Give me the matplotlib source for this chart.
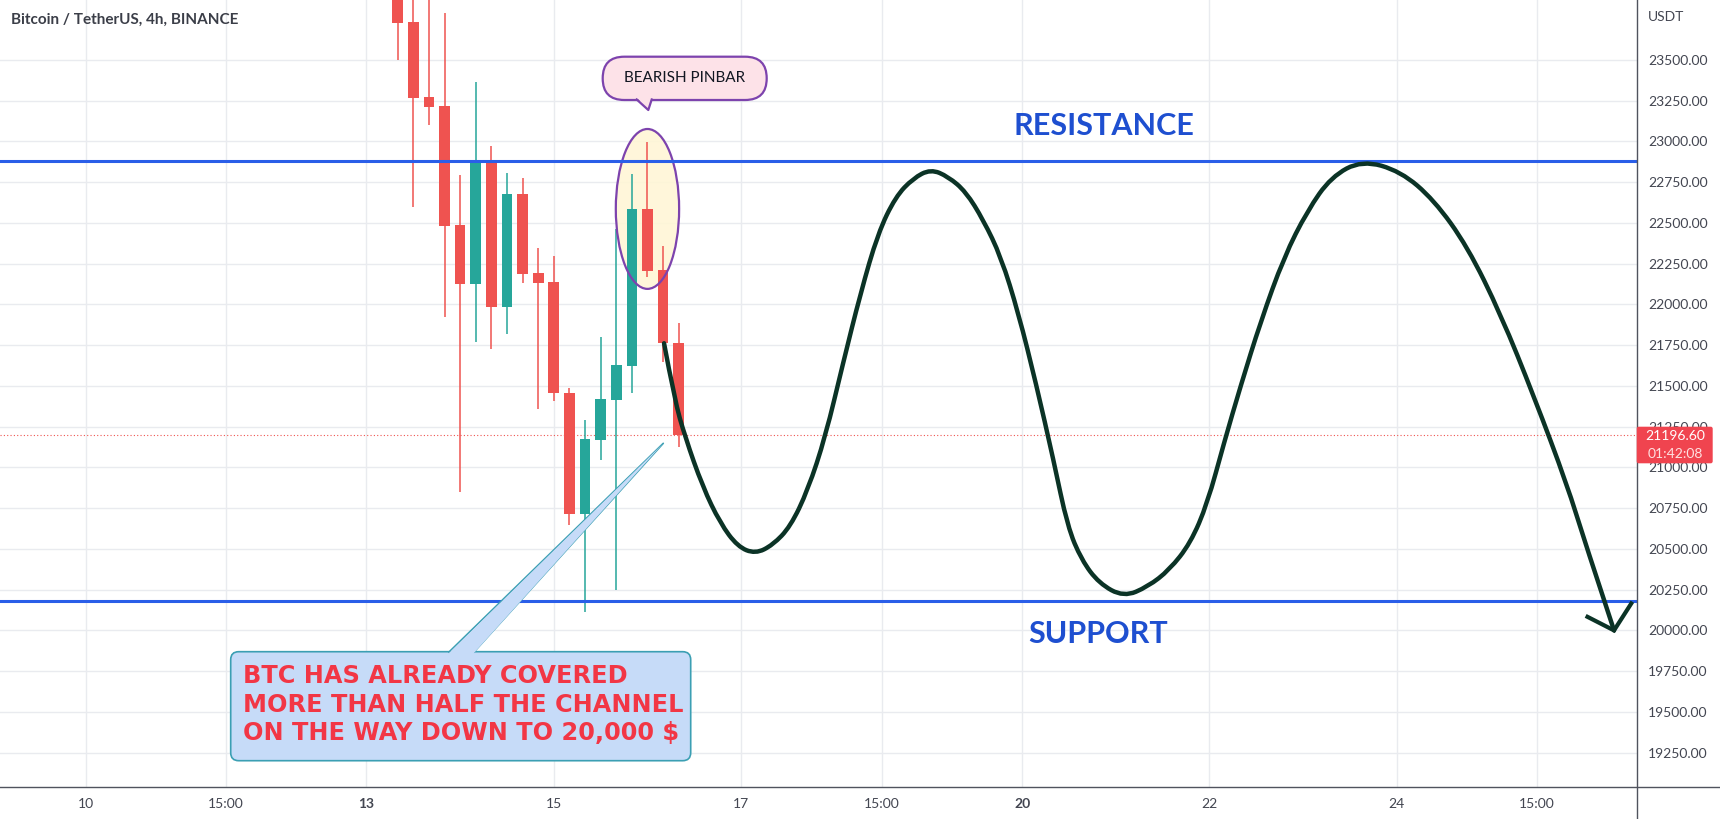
import numpy as np
import pandas as pd
import matplotlib
matplotlib.use('Agg')
import matplotlib.pyplot as plt
from matplotlib.patches import FancyBboxPatch, Polygon, Ellipse, PathPatch
from matplotlib.path import Path
from matplotlib.lines import Line2D
from matplotlib.transforms import Affine2D

# ---------------- data ----------------
candle_start = "2022-06-13 08:00"
opens  = [23950, 23733, 23273, 23218, 22488, 22124, 22880, 21987, 22678, 22193,
          22136, 21455, 20715, 21169, 21414, 21625, 22586, 22212, 21762]
highs  = [24000, 23920, 23920, 23786, 22794, 23367, 22974, 22805, 22778, 22348,
          22297, 21486, 21291, 21799, 22460, 22801, 22999, 22359, 21885]
lows   = [23500, 22600, 23101, 21925, 20848, 21768, 21727, 21817, 22130, 21359,
          21410, 20647, 20110, 21046, 20248, 21455, 22171, 21649, 21127]
closes = [23729, 23269, 23213, 22483, 22124, 22880, 21987, 22678, 22189, 22134,
          21455, 20715, 21173, 21420, 21629, 22586, 22207, 21762, 21196.6]

resistance = 22880
support = 20180
last_price = 21196.60
countdown = "01:42:08"

price_ticks = [19250, 19500, 19750, 20000, 20250, 20500, 20750, 21000, 21250, 21500,
               21750, 22000, 22250, 22500, 22750, 23000, 23250, 23500]
x_tick_days = [0, 1.5, 3, 5, 7, 8.5, 10, 12, 14, 15.5]
x_tick_labels = ['10', '15:00', '13', '15', '17', '15:00', '20', '22', '24', '15:00']
bold_ticks = ['13', '20']

# projected path (days since the 10th, price) - control points of the hand-drawn curve
curve_days = [6.177, 6.290, 6.401, 6.589, 6.777, 6.963, 7.151, 7.338, 7.526, 7.713,
              7.900, 8.088, 8.275, 8.461, 8.649, 8.837, 9.024, 9.211, 9.399, 9.586,
              9.774, 9.961, 10.148, 10.335, 10.485, 10.635, 10.821, 11.085, 11.344, 11.572,
              11.797, 11.978, 12.156, 12.334, 12.548, 12.796, 13.046, 13.300, 13.630, 14.042,
              14.398, 14.754, 15.110, 15.465, 15.822, 15.999, 16.320]
curve_prices = [21762, 21414, 21189, 20882, 20658, 20514, 20470, 20524, 20637, 20862,
                21189, 21639, 22069, 22437, 22661, 22774, 22830, 22784, 22692, 22518,
                22293, 21946, 21516, 21046, 20637, 20432, 20289, 20205, 20269, 20371,
                20535, 20778, 21151, 21502, 21896, 22291, 22575, 22783, 22885, 22817,
                22641, 22356, 21940, 21436, 20888, 20559, 20000]
arrow_head_days = [16.017, 16.320, 16.516]
arrow_head_prices = [20089, 20000, 20176]

title = "Bitcoin / TetherUS, 4h, BINANCE"
callout_lines = ["BTC HAS ALREADY COVERED",
                 "MORE THAN HALF THE CHANNEL",
                 "ON THE WAY DOWN TO 20,000 $"]

# ---------------- figure ----------------
W, H = 1720, 819
FONT = ['Lato', 'DejaVu Sans']
plt.rcParams['font.family'] = FONT

fig = plt.figure(figsize=(W / 100, H / 100), dpi=100)
fig.patch.set_facecolor('white')
px = Affine2D().scale(1, -1).translate(0, H)   # pixel coords, origin top-left

AX_RIGHT = 1636.7
AX_BOTTOM = 786.7
ax = fig.add_axes([0, (H - AX_BOTTOM) / H, AX_RIGHT / W, AX_BOTTOM / H])
ax.set_xlim(-0.913, 16.562)
ax.set_ylim(19041, 23868)
for s in ax.spines.values():
    s.set_visible(False)
ax.set_facecolor('white')

ax.yaxis.tick_right()
ax.set_yticks(price_ticks)
ax.set_yticklabels([f"{v:.2f}" for v in price_ticks])
ax.set_xticks(x_tick_days)
ax.set_xticklabels(x_tick_labels)
ax.tick_params(axis='y', length=0, pad=8, labelsize=10, labelcolor='#434651')
ax.tick_params(axis='x', length=0, pad=8, labelsize=10, labelcolor='#434651')
for lbl in ax.get_xticklabels():
    if lbl.get_text() in bold_ticks:
        lbl.set_fontweight('bold')
ax.grid(True, color='#e9ebef', lw=1)
ax.set_axisbelow(True)

# candles
times = pd.date_range(candle_start, periods=len(opens), freq='4h')
cx = np.asarray((times - pd.Timestamp('2022-06-10')) / pd.Timedelta('1D'), dtype=float)
o = np.array(opens); c = np.array(closes)
colors = np.where(c >= o, '#26a69a', '#ef5350')
ax.vlines(cx, lows, highs, colors=colors, lw=1.1, zorder=3)
ax.bar(cx, np.abs(c - o), bottom=np.minimum(o, c), width=0.114, color=colors, zorder=3.1)

# ellipse around pinbar
ax.add_patch(Ellipse((cx[16], 22586), 0.676, 981, facecolor='#fff6d6', alpha=0.9,
                     edgecolor='none', zorder=2))
ax.add_patch(Ellipse((cx[16], 22586), 0.676, 981, facecolor='none',
                     edgecolor='#7d43ad', lw=1.6, zorder=3.3))

# resistance / support
ax.axhline(resistance, color='#2a5ee8', lw=2.2, zorder=4)
ax.axhline(support, color='#2a5ee8', lw=2.2, zorder=4)
ax.axhline(last_price, color='#ef5350', lw=0.8, ls=(0, (1, 2)), zorder=2.5)

# projected path as a smooth quadratic-bezier path through the drawn control points
pts = np.column_stack([curve_days, curve_prices])
verts = [pts[0]]
codes = [Path.MOVETO]
for i in range(1, len(pts) - 1):
    mid = (pts[i] + pts[i + 1]) / 2
    if i == len(pts) - 2:
        mid = pts[i + 1]
    verts += [pts[i], mid]
    codes += [Path.CURVE3, Path.CURVE3]
ax.add_patch(PathPatch(Path(verts, codes), facecolor='none', edgecolor='#0b3326',
                       lw=3.2, capstyle='round', joinstyle='round', zorder=5))
ax.plot(arrow_head_days, arrow_head_prices, color='#0b3326', lw=3.0,
        solid_joinstyle='miter', solid_capstyle='butt', zorder=5)

# RESISTANCE / SUPPORT labels
fig.text(1104, 126, 'RESISTANCE', transform=px, ha='center', va='center',
         fontsize=22, fontweight='bold', color='#1e4fd0', zorder=8)
fig.text(1098, 634, 'SUPPORT', transform=px, ha='center', va='center',
         fontsize=22, fontweight='bold', color='#1e4fd0', zorder=8)

# BEARISH PINBAR bubble
bub = FancyBboxPatch((602.7, 56.7), 164, 43.3, boxstyle='round,pad=0,rounding_size=21.6',
                     transform=px, facecolor='#fde2e8', edgecolor='#7d43ad', lw=1.6, zorder=8)
fig.add_artist(bub)
fig.add_artist(Polygon([(636.7, 97.5), (651.7, 97.5), (648.3, 110)], closed=True,
                       transform=px, facecolor='#fde2e8', edgecolor='none', zorder=9))
fig.add_artist(Line2D([636.7, 648.3, 651.7], [99.5, 110, 99.5], transform=px,
                      color='#7d43ad', lw=1.6, zorder=9.5))
fig.text(685, 77.5, 'BEARISH PINBAR', transform=px, ha='center', va='center',
         fontsize=11, color='#131722', zorder=10)

# callout box
tail_fill = Polygon([(449, 653), (474, 653), (663.3, 443.3)], closed=True, transform=px,
                    facecolor='#c6dbf8', edgecolor='none', zorder=8.5)
fig.add_artist(Line2D([449, 663.3, 474], [652, 443.3, 652], transform=px,
                      color='#3b9fb3', lw=1.2, zorder=8.4))
box = FancyBboxPatch((230.7, 651.7), 460, 109, boxstyle='round,pad=0,rounding_size=8',
                     transform=px, facecolor='#c6dbf8', edgecolor='#3b9fb3', lw=1.2, zorder=8)
fig.add_artist(box)
fig.add_artist(tail_fill)
for i, line in enumerate(callout_lines):
    fig.text(243, 676 + i * 28.5, line, transform=px, ha='left', va='center',
             fontsize=17.3, fontweight='bold', color='#f23645', zorder=10,
             family=['DejaVu Sans'])

# title, axis frame lines
fig.text(10.7, 20, title, transform=px, ha='left', va='center', fontsize=11,
         fontweight='bold', color='#3b3e48', zorder=10)
fig.text(1648, 16.7, 'USDT', transform=px, ha='left', va='center', fontsize=10,
         color='#434651', zorder=10)
fig.add_artist(Line2D([0, W], [AX_BOTTOM, AX_BOTTOM], transform=px, color='#50535e', lw=1, zorder=10))
fig.add_artist(Line2D([AX_RIGHT, AX_RIGHT], [0, H], transform=px, color='#50535e', lw=1, zorder=10))

# last price tag
fig.add_artist(FancyBboxPatch((AX_RIGHT, 426.7), 76, 36.6, boxstyle='round,pad=0,rounding_size=2',
                              transform=px, facecolor='#f0444f', edgecolor='none', zorder=11))
fig.text(1675, 436.5, f"{last_price:.2f}", transform=px, ha='center', va='center',
         fontsize=10, color='white', zorder=12)
fig.text(1675, 453.5, countdown, transform=px, ha='center', va='center',
         fontsize=10, color='#ffe0e0', zorder=12)

fig.savefig('out.png', dpi=100, facecolor='white')
